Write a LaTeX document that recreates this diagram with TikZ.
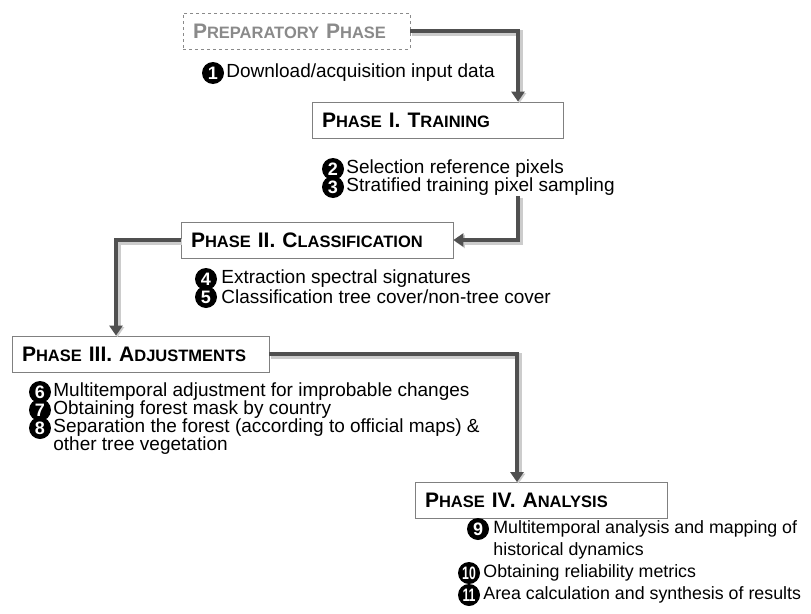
\documentclass[tikz,border=0pt]{standalone}
\usepackage{fontspec}
\setmainfont{Liberation Sans}
\usepackage{graphicx}
\usetikzlibrary{positioning,arrows.meta}

\definecolor{arrowgray}{HTML}{505050}
\definecolor{boxgray}{HTML}{808080}
\definecolor{prepgray}{HTML}{8A8A8A}

% fake small caps: big first letter, smaller rest
\newcommand{\capsc}[2]{#1{\fontsize{16.5}{18}\selectfont #2}}

\begin{document}
\begin{tikzpicture}[x=1pt, y=-1pt]
\tikzset{ >=latex,
  phase/.style={draw=boxgray, line width=0.8pt, fill=white, minimum height=36pt,
    inner xsep=10pt, inner ysep=0pt, text width=#1, align=left,
    font=\fontsize{21}{22}\selectfont\bfseries},
  num/.style={circle, fill=black, text=white, minimum size=22pt, inner sep=0pt,
    font=\fontsize{18}{18}\selectfont\bfseries},
  item/.style={inner sep=0pt, font=\fontsize{19}{19}\selectfont},
  small item/.style={inner sep=0pt, font=\fontsize{17.8}{18}\selectfont},
  flow/.style={arrowgray, line width=4.5pt, -{Triangle[width=13pt,length=10pt]},
    preaction={draw=black!20, line width=6pt, transform canvas={shift={(1.5pt,-1.5pt)}}}},
}

\useasboundingbox (0,0) rectangle (811,613);

% phase boxes
\node [phase=207pt, draw=prepgray, dashed, text=prepgray] (prep) at (296.5,31) {\capsc{P}{REPARATORY} \capsc{P}{HASE}};
\node [phase=231pt] (p1) at (437.5,120) {\capsc{P}{HASE} I. \capsc{T}{RAINING}};
\node [phase=252pt] (p2) at (317,240) {\capsc{P}{HASE} II. \capsc{C}{LASSIFICATION}};
\node [phase=237pt] (p3) at (140.5,354) {\capsc{P}{HASE} III. \capsc{A}{DJUSTMENTS}};
\node [phase=232pt] (p4) at (541,500.5) {\capsc{P}{HASE} IV. \capsc{A}{NALYSIS}};

% steps
\node [num] (n1) at (213,73) {1};
\node [item, right=2pt of n1] (t1) {Download/acquisition input data};

\node [num] (n2) at (333,169) {2};
\node [item, right=2pt of n2] (t2) {Selection reference pixels};
\node [num] (n3) at (333,187) {3};
\node [item, right=2pt of n3] (t3) {Stratified training pixel sampling};

\node [num] (n4) at (206,279) {4};
\node [item, right=4pt of n4] (t4) {Extraction spectral signatures};
\node [num] (n5) at (206,297) {5};
\node [item, right=4pt of n5] (t5) {Classification tree cover/non-tree cover};

\node [num] (n6) at (40,392) {6};
\node [item, right=2pt of n6] (t6) {Multitemporal adjustment for improbable changes};
\node [num] (n7) at (40,410) {7};
\node [item, right=2pt of n7] (t7) {Obtaining forest mask by country};
\node [num] (n8) at (40,428) {8};
\node [item, right=2pt of n8] (t8) {Separation the forest (according to official maps) \&};
\node [item, anchor=west] (t8b) at (t8.west |- 0,446) {other tree vegetation};

\node [num] (n9) at (478,529) {9};
\node [small item, right=4pt of n9] (t9) {Multitemporal analysis and mapping of};
\node [small item, anchor=west] (t9b) at (t9.west |- 0,551) {historical dynamics};
\node [num] (n10) at (469,573) {\scalebox{0.68}[1]{10}};
\node [small item, right=3pt of n10] (t10) {Obtaining reliability metrics};
\node [num] (n11) at (469,595) {\scalebox{0.68}[1]{11}};
\node [small item, right=3pt of n11] (t11) {Area calculation and synthesis of results};

% connectors
\coordinate (c2) at (518,196);

\draw [flow] (prep.east) -| ([xshift=80.5pt]p1.north);
\draw [flow] (c2) |- (p2.east);
\draw [flow] (p2.west) -| ([xshift=-24.5pt]p3.north);
\draw [flow] (p3.east) -| ([xshift=-24pt]p4.north);

\end{tikzpicture}
\end{document}
